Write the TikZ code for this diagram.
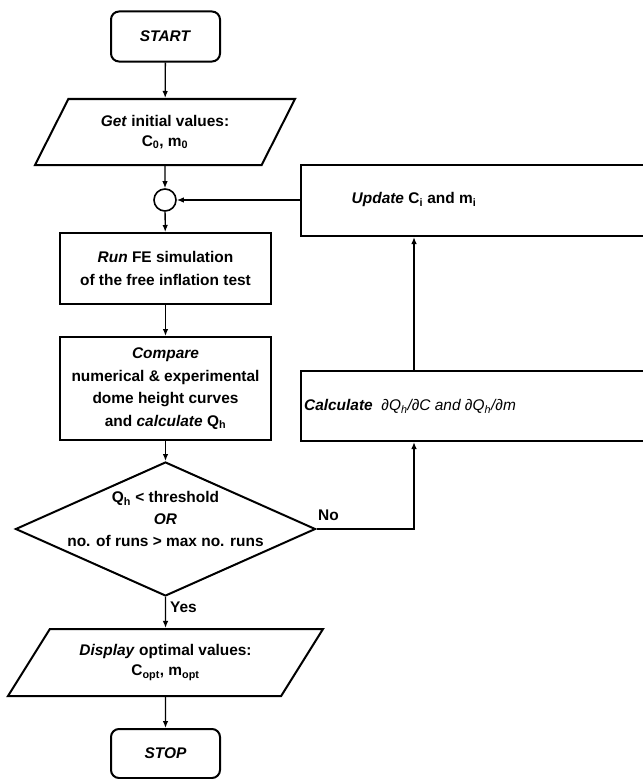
\documentclass[tikz,border=0pt]{standalone}
\usepackage{fontspec}
\setmainfont{Liberation Sans}
\usetikzlibrary{shapes,arrows.meta,positioning,calc}

\tikzset{
  base/.style={draw=black, line width=2bp, align=center, inner sep=0pt,
    font=\bfseries\fontsize{15.5}{22.5}\selectfont},
  terminal/.style={base, rectangle, rounded corners=8bp, minimum width=109bp, minimum height=50bp},
  process/.style={base, rectangle, minimum width=211bp},
  iobox/.style={base, trapezium, trapezium stretches body,
    font=\bfseries\fontsize{15.5}{20}\selectfont},
  decision/.style={base, diamond, minimum width=300bp, minimum height=134bp},
  joint/.style={draw=black, line width=1.6bp, circle, minimum size=22bp, inner sep=0pt},
  flow/.style={-{Latex[length=7bp,width=5.5bp]}, line width=1.3bp},
  tag/.style={inner sep=0pt, align=center, font=\bfseries\fontsize{15.5}{22.5}\selectfont}
}

\begin{document}
\begin{tikzpicture}[x=1bp, y=-1bp]
    \useasboundingbox (0,0) rectangle (643,779);

    % Main column
    \node[terminal] (start) at (165.5,36.5) {\textit{START}};
    \node[iobox, minimum width=260bp, minimum height=66bp,
          trapezium left angle=45.4, trapezium right angle=134.6]
          (getvals) at (165,132) {\textit{Get} initial values:\\C\textsubscript{0}, m\textsubscript{0}};
    \node[joint] (merge) at (165,200) {};
    \node[process, minimum height=71bp] (runfe) at (165.5,268.5)
          {\textit{Run} FE simulation\\of the free inflation test};
    \node[process, minimum height=103bp] (compare) at (165.5,388.5)
          {\textit{Compare}\\numerical \& experimental\\dome height curves\\and \textit{calculate} Q\textsubscript{h}};
    \node[decision] (check) at (165.5,529) {};
    \node[tag] (checktxt) at (165.5,519)
          {Q\textsubscript{h} < threshold\\\textit{OR}\\no. of runs > max no. runs};
    \node[iobox, minimum width=315bp, minimum height=67bp,
          trapezium left angle=40.3, trapezium right angle=139.7]
          (display) at (165.5,662.5) {\textit{Display} optimal values:\\C\textsubscript{opt}, m\textsubscript{opt}};
    \node[terminal, minimum height=49bp] (stop) at (165.5,753.5) {\textit{STOP}};

    % Feedback column (boxes run past the right edge)
    \node[process, minimum width=359bp, minimum height=71bp] (update) at (480.5,200.5) {};
    \node[tag] (updatetxt) at (414,200) {\textit{Update} C\textsubscript{i} and m\textsubscript{i}};
    \node[process, minimum width=359bp, minimum height=70bp] (calc) at (480.5,406) {};
    \node[tag] (calctxt) at (410,406)
          {\textit{Calculate}\ \ {\mdseries\itshape ∂Q\textsubscript{h}/∂C and ∂Q\textsubscript{h}/∂m}};

    % Connectors
    \draw[flow] (start) -- (getvals);
    \draw[flow] (getvals) -- (merge);
    \draw[flow] (merge) -- (runfe);
    \draw[flow] (runfe) -- (compare);
    \draw[flow] (compare) -- (check);
    \draw[flow] (check) -- (display);
    \draw[flow] (display) -- (stop);
    \draw[flow] (check.east) -| (calc.south -| updatetxt);
    \draw[flow] (calc.north -| updatetxt) -- (update.south -| updatetxt);
    \draw[flow] (merge.east -| update.west) -- (merge.east);

    % Branch labels
    \node[tag, anchor=west] (nolab) at (318,515) {No};
    \node[tag, anchor=west] (yeslab) at (170,607) {Yes};
\end{tikzpicture}
\end{document}
